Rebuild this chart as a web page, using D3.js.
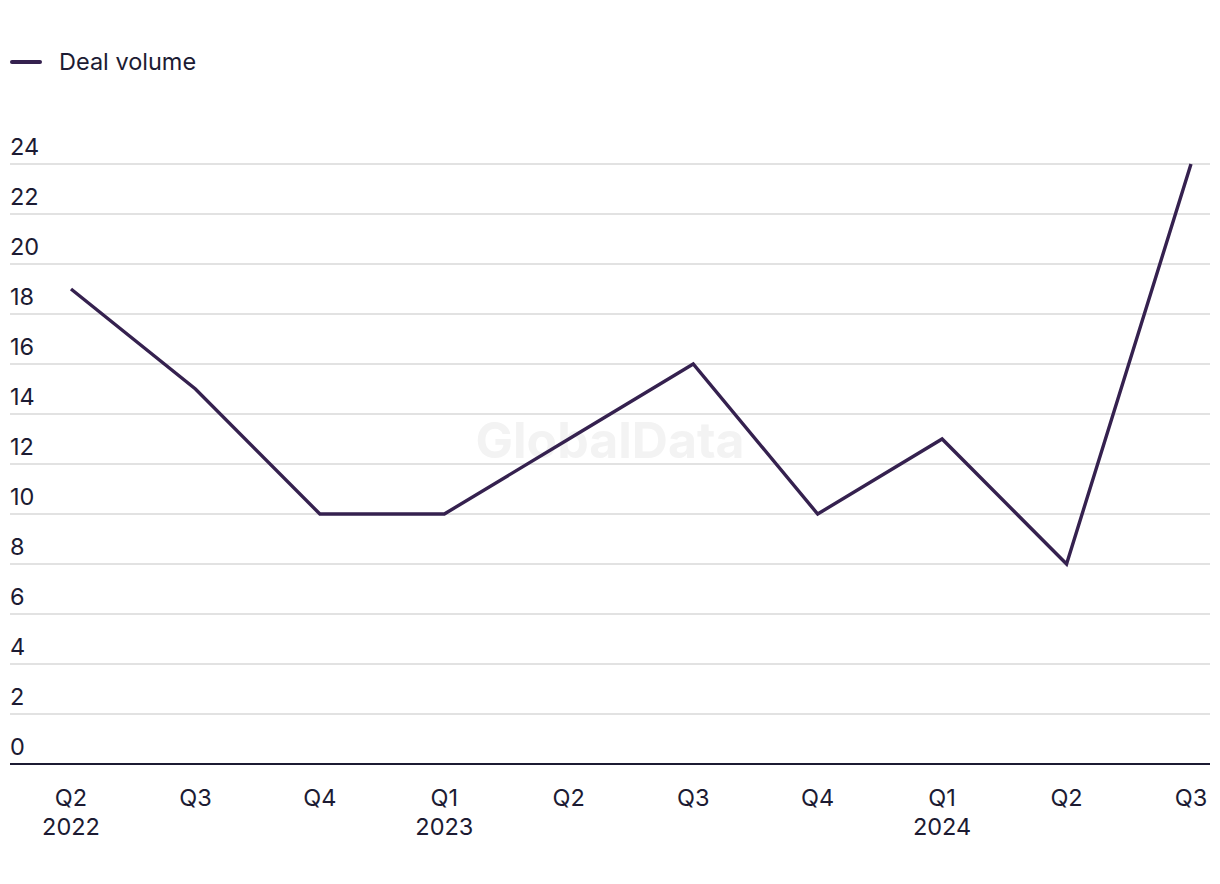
<!DOCTYPE html>
<html><head><meta charset="utf-8">
<script src="https://cdn.jsdelivr.net/npm/d3@7"></script>
<style>body{margin:0;background:#fff;} svg{display:block;}</style>
</head><body>
<svg id="c" width="1220" height="884"></svg>
<script>
const quarters = ["Q2","Q3","Q4","Q1","Q2","Q3","Q4","Q1","Q2","Q3"];
const years = ["2022","","","2023","","","","2024","",""];
const dealVolume = [19,15,10,10,13,16,10,13,8,24];
const yTicks = [0,2,4,6,8,10,12,14,16,18,20,22,24];

const svg = d3.select("#c");
const font = "Inter, 'Liberation Sans', sans-serif";
const textColor = "#1c1b33";
const lineColor = "#35214f";
const idx = d3.range(quarters.length);

const x = d3.scalePoint().domain(idx).range([71,1191]);
const y = d3.scaleLinear().domain([0,24]).range([764,164]);

// watermark
svg.append("text").attr("x",610).attr("y",458).attr("text-anchor","middle")
  .attr("font-family",font).attr("font-weight",700).attr("font-size",50)
  .attr("fill","#f3f3f3").text("GlobalData");

// grid
const g = svg.append("g");
g.selectAll("line.grid").data(yTicks.filter(d=>d>0)).join("line")
  .attr("x1",10).attr("x2",1210).attr("y1",d=>y(d)).attr("y2",d=>y(d))
  .attr("stroke","#d9d9d9").attr("stroke-width",1.5);
g.append("line").attr("x1",10).attr("x2",1210).attr("y1",y(0)).attr("y2",y(0))
  .attr("stroke","#1c1b33").attr("stroke-width",2);

g.selectAll("text.yl").data(yTicks).join("text")
  .attr("x",10).attr("y",d=>y(d)-9)
  .attr("font-family",font).attr("font-size",23.5).attr("fill",textColor)
  .text(d=>d);

// x labels
g.selectAll("text.q").data(idx).join("text")
  .attr("x",d=>x(d)).attr("y",806).attr("text-anchor","middle")
  .attr("font-family",font).attr("font-size",23.5).attr("fill",textColor)
  .text(d=>quarters[d]);
g.selectAll("text.yr").data(idx.filter(i=>years[i])).join("text")
  .attr("x",d=>x(d)).attr("y",835).attr("text-anchor","middle")
  .attr("font-family",font).attr("font-size",23.5).attr("fill",textColor)
  .text(d=>years[d]);

// line
svg.append("path").datum(idx)
  .attr("d", d3.line().x(i=>x(i)).y(i=>y(dealVolume[i])))
  .attr("fill","none").attr("stroke",lineColor).attr("stroke-width",3.4)
  .attr("stroke-linejoin","miter");

// legend
svg.append("line").attr("x1",12).attr("x2",40).attr("y1",62).attr("y2",62)
  .attr("stroke",lineColor).attr("stroke-width",4).attr("stroke-linecap","round");
svg.append("text").attr("x",59).attr("y",70)
  .attr("font-family",font).attr("font-size",23.5).attr("fill",textColor)
  .text("Deal volume");
</script>
</body></html>
